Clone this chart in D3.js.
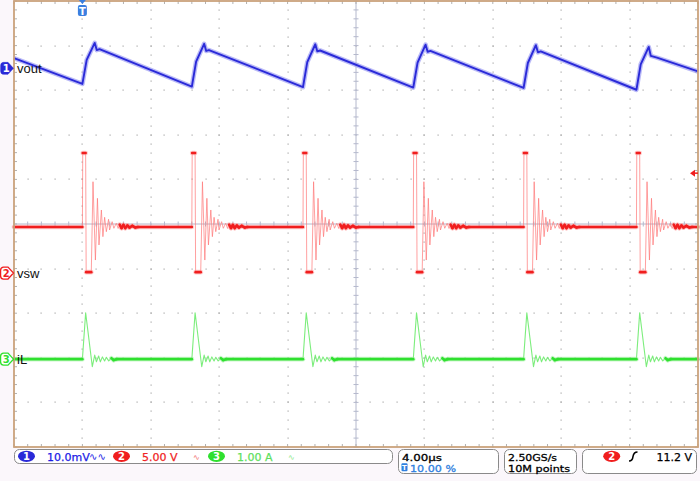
<!DOCTYPE html>
<html><head><meta charset="utf-8">
<script src="https://cdn.jsdelivr.net/npm/d3@7"></script>
<style>
html,body{margin:0;padding:0;background:#fbf7fb;}
svg{display:block;}
</style></head>
<body>
<svg id="c" width="700" height="481"></svg>
<script>
// ---------------- DATA ----------------
// time axis: 4 µs/div, trigger at 10 % of record → screen spans -4 … 36 µs
const timeDomainUs = [-4, 36];
const timePerDivUs = 4;
// channel settings
const channelNames = ["vout", "vsw", "iL"];
const channelScales = [10, 5, 1];          // per division: 10 mV, 5 V, 1 A
const channelOffsetsDiv = [3.49, -1.1, -3.03];
const channelColors = ["#2a2ad8", "#f01e1e", "#2fe02f"];
// switching edges (µs)
const edgesUs = [0.0, 6.4, 12.9, 19.35, 25.8, 32.4];
// vout trace [µs, mV]
const voutTrace = [
  [-4.0, 2.3],
  [0.0, -3.5], [0.25, 1.9], [0.72, 5.7], [0.84, 4.1], [1.0, 4.3],
  [6.4, -4.1], [6.65, 1.5], [7.12, 5.5], [7.24, 3.9], [7.4, 4.1],
  [12.9, -4.2], [13.15, 1.4], [13.62, 5.4], [13.74, 3.8], [13.9, 4.0],
  [19.35, -4.3], [19.6, 1.3], [20.07, 5.3], [20.19, 3.7], [20.35, 3.9],
  [25.8, -4.4], [26.05, 1.2], [26.52, 5.2], [26.64, 3.6], [26.8, 3.8],
  [32.4, -4.8], [32.65, 0.9], [33.12, 4.8], [33.24, 2.8], [33.6, 2.4],
  [36.0, -0.7]
];
// vsw: baseline level (V) and per-edge waveform [µs after edge, V]
const vswBaselineV = 5.16;
const vswEdgeShape = [
  [0.0, 5.16], [0.02, 13.46], [0.19, 13.46], [0.22, 0.1], [0.52, 0.1],
  [0.62, 10.24], [0.76, 1.46], [0.88, 8.38], [0.97, 3.15], [1.11, 7.07],
  [1.20, 4.08], [1.30, 6.25], [1.40, 4.64], [1.53, 6.03], [1.59, 4.83],
  [1.74, 5.76], [1.84, 5.02], [1.98, 5.58], [2.09, 5.0], [2.18, 5.44],
  [2.29, 5.05], [2.40, 5.39], [2.51, 5.05], [2.63, 5.33], [2.75, 5.11],
  [2.92, 5.28], [3.10, 5.11], [3.25, 5.16]
];
// iL: baseline (A) and per-edge waveform [µs after edge, A]
const iLBaselineA = 0.0;
const iLEdgeShape = [
  [0.0, 0.0], [0.19, 1.04], [0.58, -0.17], [0.72, 0.09], [0.82, -0.06],
  [0.95, 0.07], [1.05, -0.06], [1.17, 0.05], [1.30, -0.04], [1.40, 0.04],
  [1.54, -0.04], [1.70, 0.02], [1.83, -0.02], [2.0, 0.0]
];
const triggerLevelV = 11.2;
const triggerPosPct = 10.0;
// status bar texts
const chanScaleLabels = ["10.0mV", "5.00 V", "1.00 A"];
const timebaseLabel = "4.00µs";
const triggerPosLabel = "10.00 %";
const sampleLabels = ["2.50GS/s", "10M points"];
const triggerLabel = "11.2 V";

// ---------------- DRAWING ----------------
const svg = d3.select("#c");
const L = 14, R = 698, T = 1, B = 447;
const x = d3.scaleLinear().domain(timeDomainUs).range([L, R]);
const dv = d3.scaleLinear().domain([-5, 5]).range([B, T]);
const chY = ch => v => dv(channelOffsetsDiv[ch] + v / channelScales[ch]);

// plot background
svg.append("rect").attr("x", L).attr("y", T).attr("width", R - L).attr("height", B - T).attr("fill", "#ffffff");

const grid = svg.append("g");
const majorT = d3.range(timeDomainUs[0], timeDomainUs[1] + 0.001, timePerDivUs);
const minorT = d3.range(timeDomainUs[0], timeDomainUs[1] + 0.001, timePerDivUs / 5);
const majorD = d3.range(-5, 5.001, 1);
const minorD = d3.range(-5, 5.001, 0.2);
const centerT = (timeDomainUs[0] + timeDomainUs[1]) / 2;
// dotted major grid
majorT.slice(1, -1).forEach(t => {
  if (Math.abs(t - centerT) < 1e-6) return;
  minorD.forEach(d => grid.append("rect").attr("x", Math.round(x(t)) - 0.5).attr("y", Math.round(dv(d)) - 0.5).attr("width", 1.2).attr("height", 1.2).attr("fill", "#a8a8a8"));
});
majorD.slice(1, -1).forEach(d => {
  if (Math.abs(d) < 1e-6) return;
  minorT.forEach(t => grid.append("rect").attr("x", Math.round(x(t)) - 0.5).attr("y", Math.round(dv(d)) - 0.5).attr("width", 1.2).attr("height", 1.2).attr("fill", "#a8a8a8"));
});
// center cross with ticks
const cc = "#b4b8cc";
grid.append("line").attr("x1", L).attr("x2", R).attr("y1", dv(0)).attr("y2", dv(0)).attr("stroke", cc).attr("stroke-width", 1);
grid.append("line").attr("x1", x(centerT)).attr("x2", x(centerT)).attr("y1", T).attr("y2", B).attr("stroke", cc).attr("stroke-width", 1);
minorT.forEach(t => grid.append("line").attr("x1", x(t)).attr("x2", x(t)).attr("y1", dv(0) - 2.5).attr("y2", dv(0) + 2.5).attr("stroke", cc));
minorD.forEach(d => grid.append("line").attr("y1", dv(d)).attr("y2", dv(d)).attr("x1", x(centerT) - 2.5).attr("x2", x(centerT) + 2.5).attr("stroke", cc));
// frame ticks
const tc = "#b0b0b0";
minorT.forEach(t => {
  grid.append("line").attr("x1", x(t)).attr("x2", x(t)).attr("y1", B).attr("y2", B - 3).attr("stroke", tc);
  grid.append("line").attr("x1", x(t)).attr("x2", x(t)).attr("y1", T).attr("y2", T + 3).attr("stroke", tc);
});
minorD.forEach(d => {
  grid.append("line").attr("y1", dv(d)).attr("y2", dv(d)).attr("x1", L).attr("x2", L + 3).attr("stroke", tc);
  grid.append("line").attr("y1", dv(d)).attr("y2", dv(d)).attr("x1", R).attr("x2", R - 3).attr("stroke", tc);
});

// build full traces
function buildTrace(shape, base) {
  const pts = [[timeDomainUs[0], base]];
  edgesUs.forEach(e => shape.forEach(([dt, v]) => pts.push([e + dt, v])));
  pts.push([timeDomainUs[1], base]);
  return pts;
}
const vswTrace = buildTrace(vswEdgeShape, vswBaselineV);
const iLTrace = buildTrace(iLEdgeShape, iLBaselineA);

const traces = svg.append("g");
function drawTrace(pts, ch, thinColor, thinW, thickW, haloColor, smallPx) {
  const yS = chY(ch);
  const px = pts.map(([t, v]) => [x(t), yS(v)]);
  const line = d3.line();
  traces.append("path").attr("d", line(px)).attr("fill", "none").attr("stroke", thinColor).attr("stroke-width", thinW).attr("stroke-linejoin", "round");
  const slow = [];
  for (let i = 0; i < px.length - 1; i++) {
    const [x0, y0] = px[i], [x1, y1] = px[i + 1];
    const dx = Math.abs(x1 - x0), dy = Math.abs(y1 - y0);
    if (dy / Math.max(dx, 0.01) < 0.7 || dy < smallPx) slow.push([px[i], px[i + 1]]);
  }
  const g = traces.append("g");
  slow.forEach(([a, b]) => g.append("line").attr("x1", a[0]).attr("y1", a[1]).attr("x2", b[0]).attr("y2", b[1])
    .attr("stroke", haloColor).attr("stroke-width", thickW + 2).attr("stroke-linecap", "round").attr("opacity", 0.55));
  slow.forEach(([a, b]) => g.append("line").attr("x1", a[0]).attr("y1", a[1]).attr("x2", b[0]).attr("y2", b[1])
    .attr("stroke", channelColors[ch]).attr("stroke-width", thickW).attr("stroke-linecap", "round"));
}
// vout : slow trace, blue with soft halo
(function () {
  const yS = chY(0);
  const px = voutTrace.map(([t, v]) => [x(t), yS(v)]);
  const line = d3.line();
  traces.append("path").attr("d", line(px)).attr("fill", "none").attr("stroke", "#a4a4f4").attr("stroke-width", 4.6).attr("stroke-linejoin", "round").attr("opacity", 0.75);
  traces.append("path").attr("d", line(px)).attr("fill", "none").attr("stroke", channelColors[0]).attr("stroke-width", 1.9).attr("stroke-linejoin", "round");
})();
drawTrace(vswTrace, 1, "rgba(255,120,120,0.7)", 1, 2.6, "#ffa0a0", 3.5);
drawTrace(iLTrace, 2, "rgba(110,235,110,0.9)", 1.1, 2.6, "#a6f2a6", 2);

// frame
svg.append("rect").attr("x", L).attr("y", T).attr("width", R - L).attr("height", B - T).attr("fill", "none").attr("stroke", "#caa27c").attr("stroke-width", 1.8);

// channel markers & labels
const markerFill = [true, false, false];
channelNames.forEach((name, ch) => {
  const cy = dv(channelOffsetsDiv[ch]);
  const p = `M3.5,${cy - 6} H8 L13.5,${cy} L8,${cy + 6} H3.5 A3.2,3.2 0 0 1 0.6,${cy + 2.8} V${cy - 2.8} A3.2,3.2 0 0 1 3.5,${cy - 6} Z`;
  svg.append("path").attr("d", p)
    .attr("fill", markerFill[ch] ? channelColors[ch] : "#ffffff")
    .attr("stroke", channelColors[ch]).attr("stroke-width", markerFill[ch] ? 0.5 : 1.3);
  svg.append("text").attr("x", 6.3).attr("y", cy + 3.8).attr("text-anchor", "middle")
    .attr("font-family", "DejaVu Sans").attr("font-weight", "bold").attr("font-size", 10)
    .attr("fill", markerFill[ch] ? "#ffffff" : channelColors[ch]).text(ch + 1);
  svg.append("text").attr("x", 17).attr("y", cy + 4.5)
    .attr("font-family", "Liberation Sans, Arial").attr("font-size", 13).attr("fill", "#111").text(name);
});

// trigger position marker (top)
const tx = x(timeDomainUs[0] + (timeDomainUs[1] - timeDomainUs[0]) * triggerPosPct / 100);
svg.append("path").attr("d", `M${tx - 3.5},0 L${tx + 3.5},0 L${tx},4 Z`).attr("fill", "#3a7fe0");
svg.append("rect").attr("x", tx - 4.5).attr("y", 5).attr("width", 9).attr("height", 11).attr("rx", 2).attr("fill", "#3a7fe0");
svg.append("text").attr("x", tx).attr("y", 14.5).attr("text-anchor", "middle").attr("font-family", "DejaVu Sans").attr("font-weight", "bold").attr("font-size", 10).attr("fill", "#fff").text("T");
// trigger level marker (right)
const ty = chY(1)(triggerLevelV);
svg.append("path").attr("d", `M${R - 8},${ty} L${R - 3},${ty - 3.5} L${R - 3},${ty + 3.5} Z`).attr("fill", channelColors[1]);
svg.append("line").attr("x1", R - 3).attr("x2", R).attr("y1", ty).attr("y2", ty).attr("stroke", channelColors[1]).attr("stroke-width", 1.5);

// ---------------- STATUS BAR ----------------
const sb = svg.append("g").attr("font-family", "DejaVu Sans").attr("font-size", 11);
const boxStroke = "#8a8a8a";
sb.append("rect").attr("x", 14.5).attr("y", 449.5).attr("width", 378).attr("height", 14).attr("rx", 5).attr("fill", "#fff").attr("stroke", boxStroke);
sb.append("rect").attr("x", 398.5).attr("y", 449.5).attr("width", 100).attr("height", 24).attr("rx", 5).attr("fill", "#fff").attr("stroke", boxStroke);
sb.append("rect").attr("x", 504.5).attr("y", 449.5).attr("width", 72).attr("height", 24).attr("rx", 5).attr("fill", "#fff").attr("stroke", boxStroke);
sb.append("rect").attr("x", 582.5).attr("y", 449.5).attr("width", 114).attr("height", 24).attr("rx", 5).attr("fill", "#fff").attr("stroke", boxStroke);

const badgeX = [26.5, 121.5, 216.5];
const labelX = [47, 142, 237];
const textCols = ["#1c1ce6", "#f02424", "#5ee05e"];
const iconX = [89, 193, 288];
chanScaleLabels.forEach((lab, i) => {
  sb.append("ellipse").attr("cx", badgeX[i]).attr("cy", 456.3).attr("rx", 8.5).attr("ry", 5.6).attr("fill", channelColors[i]);
  sb.append("text").attr("x", badgeX[i]).attr("y", 460.2).attr("text-anchor", "middle").attr("font-size", 10).attr("font-weight", "bold").attr("fill", "#fff").text(i + 1);
  sb.append("text").attr("x", labelX[i]).attr("y", 460.5).attr("fill", textCols[i]).attr("stroke", textCols[i]).attr("stroke-width", 0.25).text(lab);
  sb.append("text").attr("x", iconX[i]).attr("y", 460).attr("font-size", i === 0 ? 10 : 8).attr("fill", i === 0 ? textCols[0] : (i === 1 ? "#f06a6a" : "#8ae88a")).text(i === 0 ? "∿∿" : "∿");
});
// two-line boxes: smaller font stretched to the reference widths
const two = sb.append("g").attr("font-size", 9.4);
two.append("text").attr("x", 402).attr("y", 460.6).attr("textLength", 40).attr("lengthAdjust", "spacingAndGlyphs").attr("fill", "#000").attr("stroke", "#000").attr("stroke-width", 0.3).text(timebaseLabel);
sb.append("rect").attr("x", 401.5).attr("y", 463.3).attr("width", 6).attr("height", 8).attr("rx", 1).attr("fill", "#2f80e0");
sb.append("text").attr("x", 404.5).attr("y", 470.3).attr("text-anchor", "middle").attr("font-size", 7).attr("font-weight", "bold").attr("fill", "#fff").text("T");
two.append("text").attr("x", 410).attr("y", 471.6).attr("textLength", 46).attr("lengthAdjust", "spacingAndGlyphs").attr("fill", "#2f80e0").attr("stroke", "#2f80e0").attr("stroke-width", 0.3).text(triggerPosLabel);
two.append("text").attr("x", 508).attr("y", 460.6).attr("textLength", 49).attr("lengthAdjust", "spacingAndGlyphs").attr("fill", "#000").attr("stroke", "#000").attr("stroke-width", 0.3).text(sampleLabels[0]);
two.append("text").attr("x", 508).attr("y", 471.6).attr("textLength", 62).attr("lengthAdjust", "spacingAndGlyphs").attr("fill", "#000").attr("stroke", "#000").attr("stroke-width", 0.3).text(sampleLabels[1]);
sb.append("ellipse").attr("cx", 611.7).attr("cy", 456.3).attr("rx", 8.5).attr("ry", 5.6).attr("fill", channelColors[1]);
sb.append("text").attr("x", 611.7).attr("y", 460.2).attr("text-anchor", "middle").attr("font-size", 10).attr("font-weight", "bold").attr("fill", "#fff").text("2");
sb.append("path").attr("d", "M629,461 Q632.5,461 633,456.5 Q633.7,452 637.5,452").attr("fill", "none").attr("stroke", "#000").attr("stroke-width", 1.6);
sb.append("text").attr("x", 692).attr("y", 461).attr("text-anchor", "end").attr("fill", "#000").attr("stroke", "#000").attr("stroke-width", 0.25).text(triggerLabel);
</script>
</body></html>
